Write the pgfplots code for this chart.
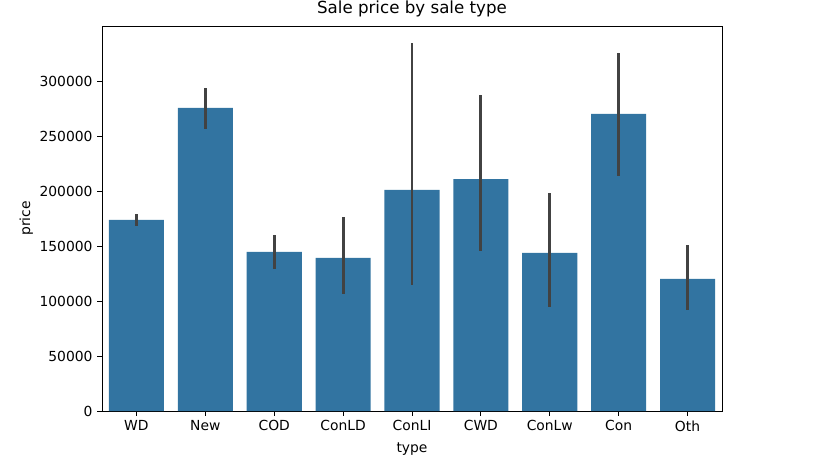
\documentclass[border=0pt]{standalone}
\usepackage{pgfplots}
\pgfplotsset{compat=1.18}
\usepackage{pgfplotstable}
\usepackage{fontspec}
\setmainfont{DejaVu Sans}
\usetikzlibrary{calc}

\definecolor{barblue}{HTML}{3274A1}
\definecolor{errgray}{HTML}{424242}

% mean price and the error bar ends
\pgfplotstableread{
x  price   ep     em
0  173900  5500   5200
1  275900  18200  18900
2  144800  15450  15200
3  139300  37300  32500
4  201200  133600 86200
5  211200  76500  65200
6  143900  54600  48900
7  270400  55600  56100
8  120200  30900  27900
}\saledata

\begin{document}
\begin{tikzpicture}
\begin{axis}[
    name=ax,
    width=465pt, height=288.75pt,
    scale only axis,
    ybar,
    bar width=0.8,
    xmin=-0.5, xmax=8.5,
    ymin=0, ymax=350500,
    xtick=data,
    xticklabels={WD,New,COD,ConLD,ConLI,CWD,ConLw,Con,Oth},
    ytick={0,50000,100000,150000,200000,250000,300000},
    scaled y ticks=false,
    /pgf/number format/.cd, fixed, 1000 sep={}, assume math mode=true,
    /pgfplots/.cd,
    tick align=outside,
    xtick pos=bottom, ytick pos=left,
    major tick length=3.6pt,
    tick style={black, line width=0.6pt},
    axis line style={line width=0.6pt},
    ticklabel style={font=\fontsize{10.4}{12}\selectfont},
    xlabel={type}, ylabel={price},
    label style={font=\fontsize{10.4}{12}\selectfont},
    title={Sale price by sale type},
    title style={font=\fontsize{12.5}{14}\selectfont, yshift=-3pt},
    xlabel style={yshift=-2pt},
    ylabel style={yshift=-2pt},
]
\addplot[fill=barblue, draw=none,
    error bars/.cd, y dir=both, y explicit,
    error mark=none,
    error bar style={line width=2.2pt, color=errgray}]
    table[x=x, y=price, y error plus=ep, y error minus=em] {\saledata};
\end{axis}
\pgfresetboundingbox
\path ($(ax.south west)+(-76.5pt,-34.5pt)$) rectangle ($(ax.north east)+(78.75pt,19.5pt)$);
\end{tikzpicture}
\end{document}
